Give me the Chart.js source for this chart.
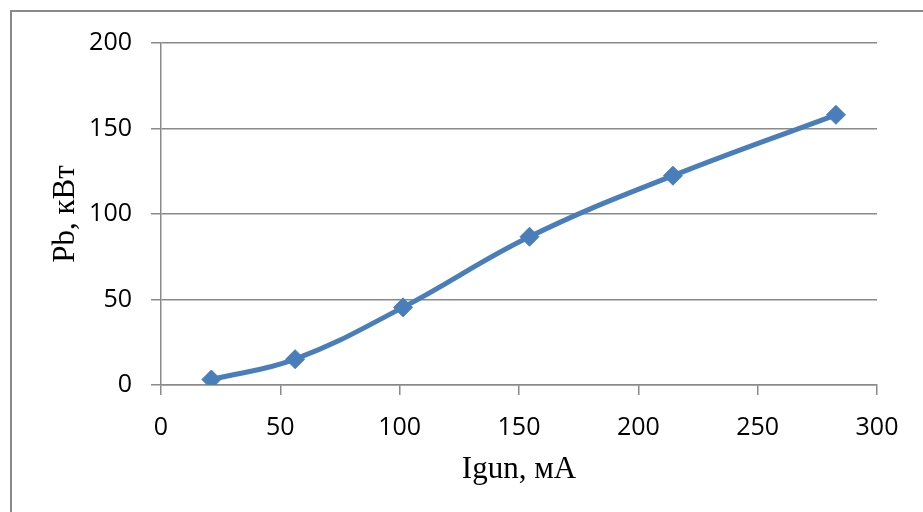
<!DOCTYPE html>
<html>
<head>
<meta charset="utf-8">
<title>Pb vs Igun</title>
<script src="https://cdn.jsdelivr.net/npm/chart.js@4.4.1/dist/chart.umd.min.js"></script>
<style>
  html, body { margin: 0; padding: 0; background: #fff; overflow: hidden; }
  #wrap { position: relative; width: 923px; height: 512px; }
</style>
</head>
<body>
<div id="wrap"><canvas id="myChart" width="923" height="512"></canvas></div>
<script>
// gun current, mA
const current = [21.1, 56.2, 101.4, 154.4, 214.5, 282.8];
// beam power, kW
const power = [3.2, 15.1, 45.4, 86.7, 122.4, 158];

const xTicks = [0, 50, 100, 150, 200, 250, 300];
const yTicks = [0, 50, 100, 150, 200];

const lineColor = '#4a7ebb';
const gridColor = '#8a8a8a';

const points = current.map((c, i) => ({ x: c, y: power[i] }));

// frame round the whole chart object
const frame = {
    id: 'frame',
    beforeDraw(chart) {
        const ctx = chart.ctx;
        ctx.save();
        ctx.fillStyle = '#fff';
        ctx.fillRect(0, 0, chart.width, chart.height);
        ctx.strokeStyle = gridColor;
        ctx.lineWidth = 2;
        ctx.strokeRect(11, 11, 1200, 1200);
        ctx.restore();
    }
};

const tickFont = { family: '"Open Sans", sans-serif', size: 25 };
const titleFont = { family: '"Liberation Serif", "Times New Roman", serif', size: 31 };

const config = {
    type: 'scatter',
    data: {
        datasets: [{
            data: points,
            showLine: true,
            tension: 0.4,
            borderColor: lineColor,
            backgroundColor: lineColor,
            borderWidth: 5,
            pointStyle: 'rectRot',
            pointRadius: 9.5,
            pointHoverRadius: 9.5,
            pointBorderWidth: 1,
            pointBorderColor: lineColor,
            pointBackgroundColor: lineColor
        }]
    },
    options: {
        responsive: false,
        animation: false,
        layout: { padding: { top: 43, right: 46, left: 0, bottom: 0 } },
        plugins: {
            legend: { display: false },
            tooltip: { enabled: false }
        },
        scales: {
            x: {
                type: 'linear',
                min: 0,
                max: 300,
                afterFit(scale) { scale.height = 127; },
                afterBuildTicks(scale) { scale.ticks = xTicks.map(v => ({ value: v })); },
                grid: {
                    drawOnChartArea: false,
                    color: gridColor,
                    lineWidth: 1.5,
                    tickLength: 10
                },
                border: { color: gridColor, width: 1.5 },
                ticks: { color: '#000', font: tickFont, padding: 18 },
                title: {
                    display: true,
                    text: 'Igun, мА',
                    color: '#000',
                    font: titleFont,
                    padding: { top: 0, bottom: 24 }
                }
            },
            y: {
                type: 'linear',
                min: 0,
                max: 200,
                afterFit(scale) { scale.width = 161; },
                afterBuildTicks(scale) { scale.ticks = yTicks.map(v => ({ value: v })); },
                grid: {
                    color: gridColor,
                    lineWidth: 1.5,
                    tickLength: 10
                },
                border: { color: gridColor, width: 1.5 },
                ticks: { color: '#000', font: tickFont, padding: 19 },
                title: {
                    display: true,
                    text: 'Pb, кВт',
                    color: '#000',
                    font: titleFont,
                    padding: { top: 47, bottom: 0 }
                }
            }
        }
    },
    plugins: [frame]
};

const myChart = new Chart(document.getElementById('myChart'), config);
</script>
</body>
</html>
